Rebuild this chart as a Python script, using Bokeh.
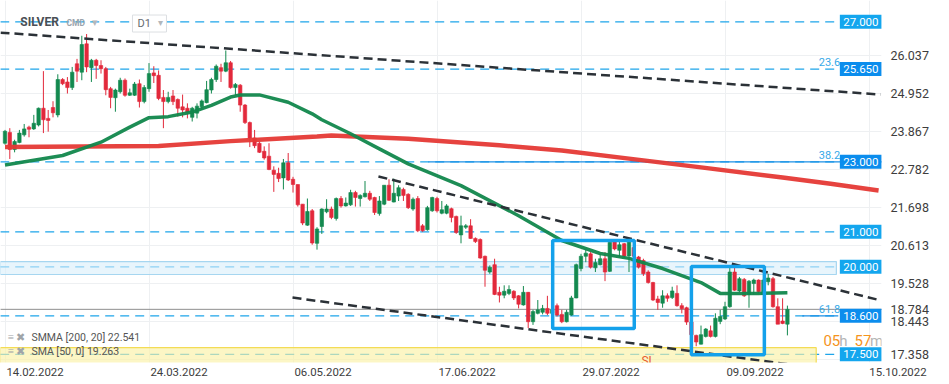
from bokeh.plotting import figure
from bokeh.models import FixedTicker, Range1d, PrintfTickFormatter
from bokeh.embed import file_html
from bokeh.resources import INLINE
from bokeh.core.properties import value

# ---------------- data ----------------
opens = [23.53, 23.84, 23.35, 23.55, 23.77, 23.99, 23.94, 24.05, 24.53, 24.24,
         24.55, 24.34, 25.35, 25.28, 25.12, 25.80, 25.56, 26.37, 25.69, 25.90,
         25.75, 25.66, 25.09, 24.83, 25.00, 25.33, 24.90, 24.90, 25.23, 24.72,
         25.09, 25.54, 25.47, 24.84, 24.72, 24.88, 24.78, 24.57, 24.53, 24.27,
         24.39, 24.57, 24.69, 25.05, 25.35, 25.69, 25.59, 25.83, 25.12, 25.19,
         24.62, 24.12, 23.68, 23.53, 23.30, 23.16, 22.76, 22.67, 22.54, 22.97,
         22.50, 22.35, 21.79, 21.19, 21.60, 20.67, 21.15, 21.57, 21.65, 21.38,
         21.95, 21.74, 21.77, 22.12, 21.95, 22.00, 22.10, 21.98, 21.52, 21.79,
         22.33, 21.85, 22.02, 22.21, 22.07, 21.65, 21.95, 21.17, 21.06, 21.60,
         21.95, 21.53, 21.53, 21.66, 21.44, 20.91, 21.13, 21.17, 20.81, 20.78,
         20.30, 19.85, 20.06, 19.27, 19.19, 19.24, 19.30, 19.17, 18.91, 19.27,
         18.43, 18.67, 18.70, 18.81, 18.67, 18.89, 18.64, 18.43, 18.62, 19.11,
         19.95, 20.30, 20.37, 19.97, 20.06, 20.23, 19.87, 20.72, 20.47, 20.66,
         20.31, 20.55, 20.28, 20.18, 19.85, 19.55, 19.08, 18.96, 19.17, 19.12,
         19.24, 18.89, 18.83, 18.42, 18.04, 17.79, 18.01, 18.17, 18.01, 18.44,
         18.51, 18.86, 19.85, 19.31, 19.64, 19.21, 19.52, 19.62, 19.21, 19.57,
         19.66, 18.86, 18.45, 18.36]
closes = [23.87, 23.35, 23.58, 23.82, 23.94, 23.93, 24.10, 24.53, 24.20, 24.18,
          24.40, 25.35, 25.23, 25.12, 25.56, 25.59, 26.35, 25.71, 25.90, 25.75,
          25.66, 25.06, 24.84, 25.05, 25.33, 24.90, 24.97, 25.22, 24.72, 25.12,
          25.52, 25.46, 24.81, 24.72, 24.84, 24.72, 24.53, 24.48, 24.40, 24.53,
          24.59, 24.74, 25.06, 25.35, 25.73, 25.59, 25.83, 25.12, 25.21, 24.62,
          24.12, 23.68, 23.46, 23.27, 23.11, 22.78, 22.64, 22.52, 22.97, 22.48,
          22.35, 21.77, 21.25, 21.58, 20.68, 21.08, 21.65, 21.65, 21.41, 21.95,
          21.74, 21.82, 22.12, 21.98, 22.04, 22.10, 21.93, 21.55, 21.88, 22.33,
          21.90, 22.10, 22.26, 22.04, 21.69, 21.93, 21.03, 21.03, 21.69, 21.98,
          21.60, 21.63, 21.74, 21.41, 20.98, 21.17, 21.17, 20.81, 20.72, 20.25,
          19.90, 19.99, 19.21, 19.19, 19.30, 19.35, 19.11, 18.93, 19.27, 18.43,
          18.72, 18.77, 18.81, 18.67, 18.77, 18.62, 18.43, 18.70, 19.11, 20.06,
          20.30, 20.39, 19.99, 20.12, 20.23, 19.85, 20.70, 20.51, 20.63, 20.31,
          20.75, 20.30, 19.99, 19.80, 19.55, 19.05, 18.98, 19.17, 19.10, 19.31,
          18.89, 18.80, 18.42, 18.06, 17.85, 18.06, 18.22, 18.01, 18.53, 18.58,
          18.86, 19.85, 19.33, 19.66, 19.17, 19.59, 19.62, 19.29, 19.62, 19.68,
          18.86, 18.36, 18.38, 18.784]
highs = [23.91, 23.96, 23.63, 23.91, 24.08, 24.03, 24.34, 24.55, 25.59, 24.48,
         24.73, 25.50, 25.39, 25.42, 25.71, 25.94, 26.60, 26.65, 25.94, 25.94,
         25.90, 25.71, 25.14, 25.09, 25.40, 25.38, 25.09, 25.28, 25.35, 25.19,
         25.82, 25.73, 25.61, 25.05, 25.00, 25.05, 24.81, 24.92, 24.67, 24.57,
         24.67, 24.78, 25.31, 25.40, 25.78, 25.80, 26.18, 25.88, 25.25, 25.22,
         24.65, 24.15, 23.91, 23.58, 23.44, 23.53, 22.87, 22.83, 23.08, 23.25,
         22.57, 22.35, 21.79, 21.95, 21.65, 21.13, 21.67, 21.93, 21.72, 21.98,
         22.02, 21.98, 22.20, 22.17, 22.07, 22.45, 22.17, 22.00, 22.02, 22.33,
         22.50, 22.52, 22.33, 22.26, 22.10, 21.98, 22.02, 21.22, 21.74, 22.00,
         22.00, 21.88, 21.79, 21.69, 21.46, 21.46, 21.22, 21.36, 20.84, 20.81,
         20.32, 20.04, 20.23, 19.43, 19.47, 19.47, 19.33, 19.19, 19.45, 19.28,
         18.77, 19.05, 18.91, 19.17, 18.91, 18.95, 18.77, 18.77, 19.17, 20.09,
         20.37, 20.51, 20.42, 20.23, 20.37, 20.42, 20.75, 20.78, 20.72, 20.68,
         20.78, 20.60, 20.31, 20.23, 19.90, 19.57, 19.17, 19.33, 19.24, 19.43,
         19.47, 18.96, 18.86, 18.44, 18.06, 18.32, 18.25, 18.32, 18.67, 18.77,
         19.00, 19.97, 19.97, 19.71, 19.68, 19.62, 19.66, 19.64, 19.66, 19.80,
         19.71, 19.10, 19.10, 18.89]
lows = [23.49, 23.08, 23.27, 23.53, 23.72, 23.70, 23.91, 24.01, 23.82, 23.86,
        24.27, 24.27, 25.19, 24.95, 25.05, 25.28, 25.33, 25.56, 25.28, 25.37,
        25.52, 24.90, 24.53, 24.43, 24.95, 24.86, 24.88, 24.88, 24.55, 24.67,
        25.00, 25.25, 24.76, 23.96, 24.67, 24.62, 24.29, 24.27, 24.24, 24.15,
        24.24, 24.48, 24.67, 24.95, 25.28, 25.28, 25.56, 25.09, 24.90, 24.43,
        24.08, 23.42, 23.39, 23.25, 23.06, 22.76, 22.14, 22.42, 22.21, 22.45,
        22.12, 21.72, 21.19, 21.17, 20.63, 20.49, 20.94, 21.53, 21.36, 21.32,
        21.69, 21.72, 21.74, 21.72, 21.72, 21.98, 21.88, 21.48, 21.46, 21.76,
        21.88, 21.84, 21.88, 21.88, 21.65, 21.60, 20.99, 21.00, 21.03, 21.57,
        21.55, 21.50, 21.50, 21.27, 20.94, 20.67, 21.08, 20.80, 20.68, 20.23,
        19.43, 19.80, 19.19, 18.98, 19.10, 19.19, 19.05, 18.81, 18.89, 18.25,
        18.34, 18.64, 18.64, 18.62, 18.62, 18.58, 18.39, 18.41, 18.60, 19.10,
        19.87, 20.13, 19.95, 19.85, 20.04, 19.59, 19.85, 20.47, 20.28, 20.25,
        19.85, 20.20, 19.95, 19.74, 19.52, 19.02, 18.77, 18.83, 19.00, 19.08,
        18.86, 18.67, 18.34, 18.01, 17.73, 17.78, 17.98, 17.98, 17.98, 18.36,
        18.48, 18.83, 19.31, 19.27, 19.14, 18.83, 19.21, 19.24, 19.19, 19.47,
        18.83, 18.36, 18.36, 18.04]
bars = list(range(len(opens)))

# SMMA [200, 20] (red) and SMA [50, 0] (green), read at sample bars
smma_x = [0, 32, 47, 65, 68, 84, 103, 116, 130, 145, 162, 172, 182]
smma_y = [23.42, 23.45, 23.59, 23.72, 23.75, 23.66, 23.47, 23.32, 23.09, 22.84, 22.55, 22.37, 22.18]
sma_x = [0, 12, 20, 26, 30, 34, 39, 43, 47, 49, 53, 59, 64, 66, 72, 78, 84, 95, 107, 116, 124, 130, 137, 145, 149, 157, 163]
sma_y = [22.91, 23.18, 23.56, 23.99, 24.26, 24.29, 24.42, 24.61, 24.85, 24.91, 24.91, 24.70, 24.37, 24.20,
         23.80, 23.37, 22.94, 22.32, 21.46, 20.75, 20.38, 20.24, 19.95, 19.55, 19.24, 19.24, 19.26]
smma_last = "22.541"
sma_last = "19.263"
last_price = 18.784

# trend lines (bar, price) pairs
trend_x0 = [-0.94, 77.8, 59.9]
trend_y0 = [26.69, 22.58, 19.12]
trend_x1 = [182.4, 182.4, 182.4]
trend_y1 = [24.92, 19.04, 16.86]

# horizontal levels
levels = [27.0, 25.65, 23.0, 21.0, 20.0, 18.6, 17.5]
level_labels = ["27.000", "25.650", "23.000", "21.000", "20.000", "18.600", "17.500"]
level_box_colors = ["#14a6ee", "#0b8ded", "#0b8ded", "#14a6ee", "#14a6ee", "#0b8ded", "#14a6ee"]
fib_labels = ["23.6", "38.2", "61.8"]
fib_levels = [25.65, 23.0, 18.6]

# highlighted boxes (bar range, price range)
box_left = [114.1, 143.0]
box_right = [131.1, 158.2]
box_top = [20.75, 20.01]
box_bottom = [18.24, 17.49]

# zones
zone_blue = (19.78, 20.15)
zone_yellow = (17.0, 17.69)

date_ticks = [0, 30, 60, 90, 120, 150, 180]
date_labels = ["14.02.2022", "24.03.2022", "06.05.2022", "17.06.2022",
               "29.07.2022", "09.09.2022", "15.10.2022"]
price_ticks = [17.358, 18.443, 19.528, 20.613, 21.698, 22.782, 23.867, 24.952, 26.037]

# ---------------- figure ----------------
GREEN = "#13894f"
RED = "#e2293b"
BLUE = "#1ea5ea"
FONT = "Roboto"
Y0, Y1 = 17.265, 27.608
X0, X1 = -0.9375, 182.604
LABEL_SHIFT = 6.25   # date labels start at their grid line
NBSP = "\u00a0"

p = figure(x_range=Range1d(X0, X1), y_range=Range1d(Y0, Y1),
           frame_width=881, frame_height=362, y_axis_location="right",
           toolbar_location=None, output_backend="svg",
           min_border_left=0, min_border_top=0, min_border_bottom=22, min_border_right=68)
p.outline_line_color = None
p.background_fill_color = "white"
p.border_fill_color = "white"

# x axis: label positions; the last label sits at the frame edge, padded to start at its grid line
xt = [t + LABEL_SHIFT for t in date_ticks[:-1]] + [X1 - 0.1]
x_over = {v: s for v, s in zip(xt[:-1], date_labels[:-1])}
x_over[xt[-1]] = NBSP * 12 + date_labels[-1]
p.xaxis.ticker = FixedTicker(ticks=xt)
p.xaxis.major_label_overrides = x_over
p.xgrid.ticker = FixedTicker(ticks=date_ticks)

# y axis: price ticks, lowest one nudged up as in the original, plus the last price
low_label_pos = 17.49
yt = [low_label_pos] + price_ticks[1:] + [last_price]
p.yaxis.ticker = FixedTicker(ticks=yt)
p.yaxis.formatter = PrintfTickFormatter(format="%.3f")
p.yaxis.major_label_overrides = {low_label_pos: "%.3f" % price_ticks[0], last_price: "%.3f" % last_price}
p.ygrid.ticker = FixedTicker(ticks=price_ticks)
for ax in (p.xaxis[0], p.yaxis[0]):
    ax.axis_line_color = None
    ax.major_tick_line_color = None
    ax.minor_tick_line_color = None
    ax.major_tick_out = 0
    ax.major_tick_in = 0
    ax.major_label_text_font = FONT
    ax.major_label_text_color = "#3d3d3d"
p.yaxis.major_label_text_font_size = "12.5px"
p.xaxis.major_label_text_font_size = "11.4px"
p.yaxis.major_label_standoff = 9
p.xaxis.major_label_standoff = 2
p.xgrid.grid_line_color = "#eef0f2"
p.ygrid.grid_line_color = "#eef0f2"

# level dashed lines
n = len(levels)
p.segment(x0=[-1] * n, x1=[173.6] * n, y0=levels, y1=levels,
          line_color=BLUE, line_width=1.3, line_dash="9 6")
# fib solid lines
p.segment(x0=[88.2, 166.1], x1=[183, 173.6], y0=[23.0, 18.6], y1=[23.0, 18.6],
          line_color="#1a8fe6", line_width=1.2)

# zones (drawn over the dashed lines)
p.quad(left=[-1], right=[173.2], bottom=[zone_blue[0]], top=[zone_blue[1]],
       fill_color="#d9eefa", fill_alpha=0.6, line_color="#a6d6f0", line_width=1.2)
p.quad(left=[-1], right=[169.0], bottom=[zone_yellow[0]], top=[zone_yellow[1]],
       fill_color="#fbf1a6", fill_alpha=0.65, line_color="#f3dc55", line_width=1.2)

# current price line
p.segment(x0=[-1], x1=[183], y0=[last_price], y1=[last_price], line_color="#8e8e8e", line_width=1)

# candles
colors = [GREEN if c >= o else RED for o, c in zip(opens, closes)]
p.segment(x0=bars, x1=bars, y0=lows, y1=highs, line_color=colors, line_width=1)
p.vbar(x=bars, width=0.72, top=[max(o, c) for o, c in zip(opens, closes)],
       bottom=[min(o, c) for o, c in zip(opens, closes)],
       fill_color=colors, line_color=colors, line_width=0.6)

# moving averages
p.line(smma_x, smma_y, line_color="#e53935", line_width=4.5, line_alpha=0.95)
p.line(sma_x, sma_y, line_color="#11874c", line_width=3.5, line_alpha=0.95)

# trend lines
p.segment(x0=trend_x0, y0=trend_y0, x1=trend_x1, y1=trend_y1,
          line_color="#2b3137", line_width=2.5, line_dash="9 5")

# highlight boxes
p.quad(left=box_left, right=box_right, top=box_top, bottom=box_bottom,
       fill_color=None, line_color="#14a1eb", line_width=3.5)


def txt(x, y, s, color, size, align="left", baseline="middle", style="normal"):
    p.text(x=[x], y=[y], text=[s], text_color=color, text_font_size=size,
           text_align=align, text_baseline=baseline, text_font=value(FONT),
           text_font_style=style)


# level label boxes
p.rect(x=[178.3] * n, y=levels, width=42, height=14, width_units="screen", height_units="screen",
       fill_color=level_box_colors, line_color=None)
p.text(x=[178.3] * n, y=levels, text=level_labels, text_color="white", text_font_size="11.5px",
       text_align="center", text_baseline="middle", text_font=value(FONT))

# fib texts
for lab, lev in zip(fib_labels, fib_levels):
    txt(174.0, lev + 0.19, lab, "#36a9e8", "11px", align="right")

# SL marker
txt(132.6, 17.51, "SL", "#e85a2c", "12px", baseline="top")

# countdown
txt(170.5, 17.89, "05", "#f5941d", "15px")
txt(173.8, 17.89, "h", "#b5b5b5", "15px")
txt(177.0, 17.89, "57", "#f5941d", "15px")
txt(180.2, 17.89, "m", "#b5b5b5", "15px")

# legend
txt(0.5, 17.98, "≡ ✖", "#a0a4a8", "11px")
txt(0.5, 17.58, "≡ ✖", "#a0a4a8", "11px")
txt(5.5, 17.98, "SMMA  [200,  20]  " + smma_last, "#555555", "10.5px")
txt(5.5, 17.58, "SMA  [50,  0]  " + sma_last, "#555555", "10.5px")

# header
txt(3.2, 26.98, "SILVER", "#4a4f55", "12px", style="bold")
txt(12.8, 26.96, "CMD", "#9aa3ab", "8.5px", style="bold")
txt(18.2, 26.98, "▾", "#b3b7bb", "11px")
p.rect(x=[30.1], y=[26.95], width=34, height=17, width_units="screen", height_units="screen",
       fill_color="white", line_color="#dcdfe2", line_width=1)
txt(27.6, 26.95, "D1", "#666b70", "11px")
txt(31.8, 26.97, "▾", "#b3b7bb", "10px")

open("out.html", "w").write(file_html(p, INLINE))
